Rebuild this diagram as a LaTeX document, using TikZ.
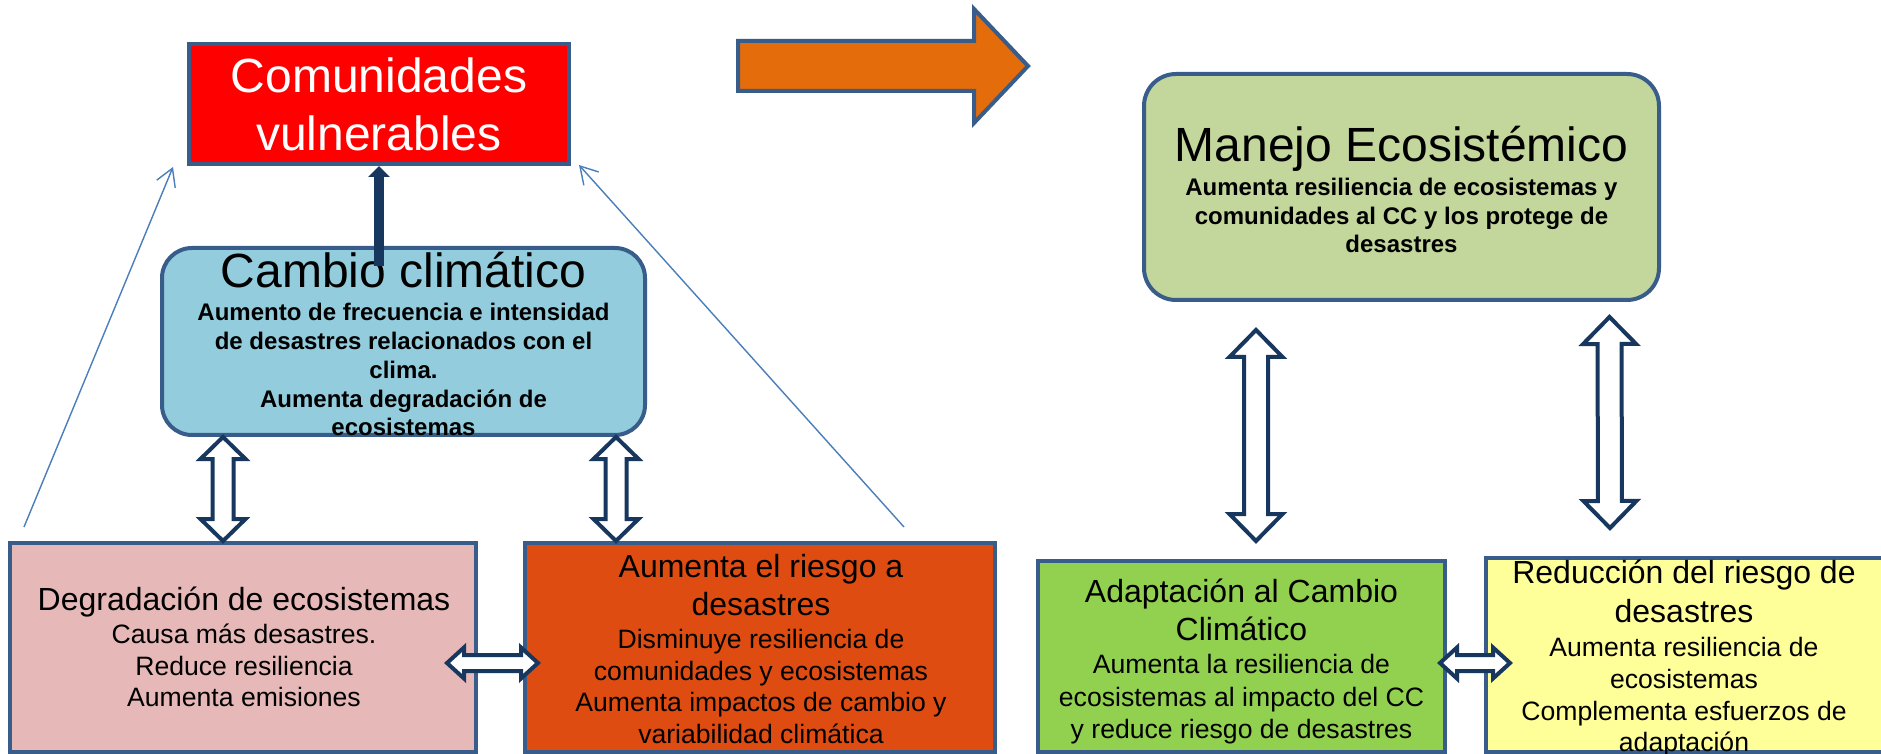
\documentclass[tikz,border=0pt]{standalone}
\usepackage{fontspec}
\setmainfont{Liberation Sans}
\usetikzlibrary{arrows.meta,calc}

\definecolor{boxline}{HTML}{385D8A}
\definecolor{navyarr}{HTML}{17375E}
\definecolor{thinblue}{HTML}{4A7EBB}
\definecolor{redfill}{HTML}{FF0000}
\definecolor{orangearr}{HTML}{E46C0A}
\definecolor{ccfill}{HTML}{93CDDD}
\definecolor{degrfill}{HTML}{E6B9B8}
\definecolor{riskfill}{HTML}{DE4C12}
\definecolor{ecofill}{HTML}{C3D69B}
\definecolor{adapfill}{HTML}{92D050}
\definecolor{rrdfill}{HTML}{FFFF99}

\tikzset{every picture/.style={line width=0.75pt}}
\tikzset{
  box/.style={draw=boxline, line width=2pt, inner sep=0pt},
  hollow/.style={draw=navyarr, fill=white, line width=2pt},
  thinarr/.style={draw=thinblue, line width=0.7pt, -{Straight Barb[length=8.5pt,width=10pt]}},
  big/.style={inner sep=0pt, align=center, font=\fontsize{24}{29}\selectfont},
  title/.style={inner sep=0pt, align=center, font=\fontsize{16}{19}\selectfont},
  body/.style={inner sep=0pt, align=center, font=\fontsize{13.3}{15.8}\selectfont},
  boldbody/.style={inner sep=0pt, align=center, font=\bfseries\fontsize{12}{14.4}\selectfont},
}

% hollow double arrow: end, end, shaft half width, head half width, head length
\newcommand{\dblarrow}[5]{%
  \draw [hollow] (#1) -- ($(#1)!#5!(#2)!#4!-90:(#2)$) -- ($(#1)!#5!(#2)!#3!-90:(#2)$)
    -- ($(#2)!#5!(#1)!#3!90:(#1)$) -- ($(#2)!#5!(#1)!#4!90:(#1)$) -- (#2)
    -- ($(#2)!#5!(#1)!#4!-90:(#1)$) -- ($(#2)!#5!(#1)!#3!-90:(#1)$)
    -- ($(#1)!#5!(#2)!#3!90:(#2)$) -- ($(#1)!#5!(#2)!#4!90:(#2)$) -- cycle ;}

\begin{document}
\begin{tikzpicture}[x=0.5pt,y=0.5pt,yscale=-1,xscale=1]
            %set diagram left start at 0, and has height of 754
            \useasboundingbox (0,0) rectangle (1881,754);
            \fill [white] (0,0) rectangle (1881,754);
            \clip (0,0) rectangle (1881,754);

            %Shape: Rectangle [id:vuln]
            \node [box, fill=redfill, big, text=white, minimum width=190pt, minimum height=60pt] (vuln) at (379,104) {Comunidades\\vulnerables};
            %Shape: Right Arrow [id:next]
            \draw [draw=boxline, line width=2pt, fill=orangearr] (738,41) -- (974,41) -- (974,9) -- (1028,66) -- (974,123) -- (974,91) -- (738,91) -- cycle ;

            %Shape: Rounded Rect [id:cc]
            \node [box, fill=ccfill, rounded corners=15pt, minimum width=241.5pt, minimum height=93.5pt] (cc) at (403.5,341.5) {};
            % Text Node
            \node [big, anchor=base] (ccT) at (403.5,288) {Cambio climático};
            % Text Node
            \node [boldbody] (ccB) at (403.5,369.7) {Aumento de frecuencia e intensidad\\de desastres relacionados con el\\clima.\\Aumenta degradación de\\ecosistemas};

            %Shape: Rectangle [id:degr]
            \node [box, fill=degrfill, minimum width=233pt, minimum height=104.5pt] (degr) at (243,647.5) {};
            % Text Node
            \node [title, anchor=base] (degrT) at (244,610.5) {Degradación de ecosistemas};
            % Text Node
            \node [body] (degrB) at (244,665.4) {Causa más desastres.\\Reduce resiliencia\\Aumenta emisiones};

            %Shape: Rectangle [id:risk]
            \node [box, fill=riskfill, minimum width=235pt, minimum height=104.5pt] (risk) at (760,647.5) {};
            % Text Node
            \node [title] (riskT) at (761,584.9) {Aumenta el riesgo a\\desastres};
            % Text Node
            \node [body] (riskB) at (761,686.6) {Disminuye resiliencia de\\comunidades y ecosistemas\\Aumenta impactos de cambio y\\variabilidad climática};

            %Shape: Rounded Rect [id:eco]
            \node [box, fill=ecofill, rounded corners=16pt, minimum width=257.5pt, minimum height=113pt] (eco) at (1401.5,187) {};
            % Text Node
            \node [big, anchor=base] (ecoT) at (1401.5,162) {Manejo Ecosistémico};
            % Text Node
            \node [boldbody, font=\bfseries\fontsize{12}{14.25}\selectfont] (ecoB) at (1401.5,215.8) {Aumenta resiliencia de ecosistemas y\\comunidades al CC y los protege de\\desastres};

            %Shape: Rectangle [id:adap]
            \node [box, fill=adapfill, minimum width=203.5pt, minimum height=95.5pt] (adap) at (1241.5,656.5) {};
            % Text Node
            \node [title] (adapT) at (1241.5,609.9) {Adaptación al Cambio\\Climático};
            % Text Node
            \node [body, font=\fontsize{13.3}{16.2}\selectfont] (adapB) at (1241.5,699.4) {Aumenta la resiliencia de\\ecosistemas al impacto del CC\\y reduce riesgo de desastres};

            %Shape: Rectangle [id:rrd]
            \node [box, fill=rrdfill, minimum width=199pt, minimum height=97pt] (rrd) at (1685,655) {};
            % Text Node
            \node [title, font=\fontsize{16}{19.5}\selectfont] (rrdT) at (1684,591) {Reducción del riesgo de\\desastres};
            % Text Node
            \node [body] (rrdB) at (1684,697.4) {Aumenta resiliencia de\\ecosistemas\\Complementa esfuerzos de\\adaptación};

            %Straight Lines [id:thin]
            \coordinate (degrTop) at (24,527);
            \coordinate (riskTop) at (904,527);
            \draw [thinarr] (degrTop) -- ($(vuln.south west)+(-14,1)$);
            \draw [thinarr] (riskTop) -- ($(vuln.south east)+(8,-1)$);

            %Straight Lines [id:up]
            \draw [navyarr, line width=5.3pt, -{Triangle[width=10.5pt,length=5.5pt]}] ($(vuln.south |- cc.north)+(0,20)$) -- (vuln.south);

            %Shape: Up-Down Arrows
            \path (cc.south) ++(-180.5,0) coordinate (ccL) (degr.north) ++(-20,0) coordinate (degrN);
            \path (cc.south) ++(212.5,0) coordinate (ccR) (risk.north) ++(-144,0) coordinate (riskN);
            \dblarrow{ccL}{degrN}{5.25pt}{11.25pt}{11pt}
            \dblarrow{ccR}{riskN}{5.25pt}{11.25pt}{11pt}
            \path (eco.south) ++(-145.5,28) coordinate (ecoL) (adap.north) ++(14.5,-18) coordinate (adapN);
            \path (eco.south) ++(208,15) coordinate (ecoR) (rrd.north) ++(-75,-28) coordinate (rrdN);
            \dblarrow{ecoL}{adapN}{6pt}{13.25pt}{13.5pt}
            \dblarrow{ecoR}{rrdN}{6pt}{13.25pt}{13.5pt}

            %Shape: Left-Right Arrows
            \path (degr.east) ++(-31,15.5) coordinate (degrE) (risk.west) ++(15,15.5) coordinate (riskW);
            \path (adap.east) ++(-7,6.5) coordinate (adapE) (rrd.west) ++(26,8) coordinate (rrdW);
            \dblarrow{degrE}{riskW}{4pt}{7.75pt}{8.5pt}
            \dblarrow{adapE}{rrdW}{4pt}{7.75pt}{8.5pt}

\end{tikzpicture}
\end{document}
